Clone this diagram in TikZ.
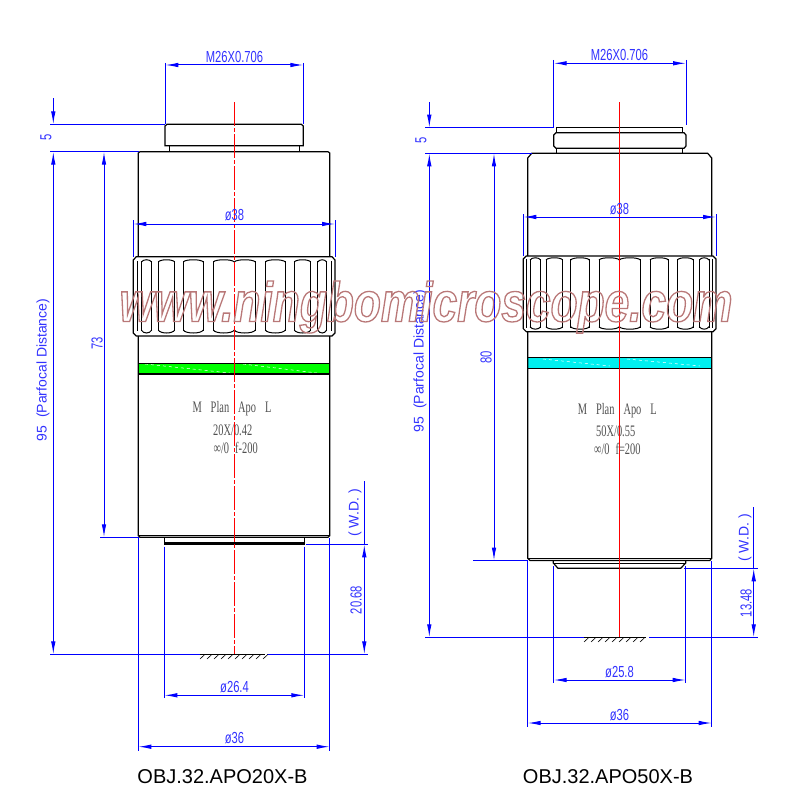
\documentclass[tikz,border=0pt]{standalone}
\usepackage{fontspec}
\setmainfont{Liberation Sans}
\newfontfamily\cadfont[FakeStretch=0.7]{Liberation Sans}
\newfontfamily\lensfont[FakeStretch=0.65]{Liberation Serif}
\newfontfamily\markfont[FakeStretch=0.79]{Liberation Sans}
\usetikzlibrary{arrows.meta}
\definecolor{cadblue}{RGB}{50,50,255}
\definecolor{markred}{RGB}{185,120,120}
\definecolor{lensgray}{RGB}{80,80,80}
\definecolor{bandgreen}{RGB}{0,255,0}
\definecolor{bandcyan}{RGB}{0,240,240}
\tikzset{
  outline/.style={black,line width=1.2pt},
  dimline/.style={blue,line width=1pt,{Latex[length=13pt,width=4.5pt]}-{Latex[length=13pt,width=4.5pt]}},
  dimend/.style={blue,line width=1pt,-{Latex[length=13pt,width=4.5pt]}},
  extline/.style={blue,line width=1pt},
  cadlabel/.style={inner sep=0pt,text=cadblue,font=\cadfont\fontsize{16}{16}\selectfont},
  plainlabel/.style={inner sep=0pt,text=cadblue,font=\fontsize{14}{14}\selectfont},
  lenslabel/.style={inner sep=0pt,text=lensgray,font=\lensfont\fontsize{16}{16}\selectfont},
  titlelabel/.style={inner sep=0pt,text=black,font=\fontsize{20}{20}\selectfont},
}
\begin{document}
\begin{tikzpicture}[x=1pt,y=-1pt]
\useasboundingbox (0,0) rectangle (800,800);
% left objective
\fill [bandgreen] (138.3,363.3) rectangle (329.7,374);
\draw [white,dashed,line width=0.5pt] (145,364) -- (230,373);
\draw [white,dashed,line width=0.5pt] (243,364) -- (317,373);
\draw [outline] (165,126) -- (167,124.3) -- (301.3,124.3) -- (303.3,126) -- (303.3,145.7) -- (165,145.7) -- cycle;
\draw [outline] (169.3,145.7) -- (169.3,151.7);
\draw [outline] (299.3,145.7) -- (299.3,151.7);
\draw [outline] (138.3,256.7) -- (138.3,153) -- (140,151.7) -- (328,151.7) -- (329.7,153) -- (329.7,256.7);
\draw [outline] (133.3,260) -- (136.3,256.7) -- (332,256.7) -- (335,260) -- (335,333) -- (332,336) -- (136.3,336) -- (133.3,333) -- cycle;
\draw [outline] (138.3,336) -- (138.3,535.7) -- (140,537.3) -- (328,537.3) -- (329.7,535.7) -- (329.7,336);
\draw [outline] (138.3,535.7) -- (329.7,535.7);
\draw [outline] (138.3,363.3) -- (329.7,363.3);
\draw [outline] (138.3,374) -- (329.7,374);
\draw [outline] (164.3,537.3) -- (164.3,544) -- (304.3,544) -- (304.3,537.3);
\draw [black,line width=1pt] (164.3,542.5) -- (304.3,542.5);
\foreach \xk in {137.3,141.3,151.7,158.3,174.7,183.3,203.3,213.3,255.3,265.3,285.3,294.3,310.7,317.7,326.7,331} {
  \draw [black,line width=1pt] (\xk,261) -- (\xk,331);
}
\foreach \xa/\xb in {141.3/151.7,158.3/174.7,183.3/203.3,213.3/234.3,234.3/255.3,265.3/285.3,294.3/310.7,317.7/326.7} {
  \draw [black,line width=1pt] (\xa,262) .. controls (\xa+2,259) and (\xb-2,259) .. (\xb,262);
  \draw [black,line width=1pt] (\xa,330) .. controls (\xa+2,334) and (\xb-2,334) .. (\xb,330);
}
\node (l1a) at (232,409) [lenslabel] {M\hspace{9pt}Plan\hspace{9pt}Apo\hspace{9pt}L};
\node (l2a) at (232.7,430) [lenslabel] {20X/0.42};
\node (l3a) at (235.7,448) [lenslabel] {∞/0\hspace{6pt}f-200};
\draw [red,line width=1pt,dash pattern=on 24pt off 2pt on 4pt off 2pt] (234.3,102) -- (234.3,654.3);
% left dimensions
\coordinate (m26la) at (165.3,65);
\coordinate (m26lb) at (303.3,65);
\coordinate (d38la) at (133.3,224);
\coordinate (d38lb) at (335,224);
\coordinate (d26la) at (164.3,695.3);
\coordinate (d26lb) at (304.3,695.3);
\coordinate (d36la) at (138.3,746.7);
\coordinate (d36lb) at (329.7,746.7);
\coordinate (five1a) at (53.3,98);
\coordinate (five1b) at (53.3,124.3);
\coordinate (par1a) at (53.3,151.7);
\coordinate (par1b) at (53.3,654.3);
\coordinate (tube1a) at (104,151.7);
\coordinate (tube1b) at (104,537.3);
\coordinate (wd1a) at (364.3,544.3);
\coordinate (wd1b) at (364.3,654.3);
\draw [dimline] (m26la) -- (m26lb);
\draw [dimline] (d38la) -- (d38lb);
\draw [dimline] (d26la) -- (d26lb);
\draw [dimline] (d36la) -- (d36lb);
\draw [dimend] (five1a) -- (five1b);
\draw [dimline] (par1a) -- (par1b);
\draw [dimline] (tube1a) -- (tube1b);
\draw [dimline] (wd1a) -- (wd1b);
\draw [extline] (165.3,63) -- (165.3,124.3);
\draw [extline] (303.3,63) -- (303.3,124.3);
\draw [extline] (50,124.3) -- (165,124.3);
\draw [extline] (50,151.7) -- (139,151.7);
\draw [extline] (133.3,220) -- (133.3,256.7);
\draw [extline] (335,220) -- (335,256.7);
\draw [extline] (100,537.3) -- (138.3,537.3);
\draw [extline] (138.3,537.3) -- (138.3,750.7);
\draw [extline] (329.7,538) -- (329.7,750.7);
\draw [extline] (164.3,546.7) -- (164.3,698);
\draw [extline] (304.3,546.7) -- (304.3,698);
\draw [extline] (306,544.3) -- (368,544.3);
\draw [extline] (364.3,481) -- (364.3,544.3);
\draw [extline] (50,654.3) -- (200,654.3);
\draw [extline] (267,654.3) -- (368,654.3);
\draw [black,line width=1pt] (200,654.3) -- (265,654.3);
\foreach \xh in {200,207,...,263} {
  \draw [black,line width=0.6pt] (\xh,659) -- (\xh+5,654.3);
}
\node (m26ta) at (234.5,57) [cadlabel] {M26X0.706};
\node (d38ta) at (234.5,215) [cadlabel] {ø38};
\node (d26ta) at (234.5,687) [cadlabel] {ø26.4};
\node (d36ta) at (234.5,738) [cadlabel] {ø36};
\node (fiveta) at (46,137) [cadlabel,rotate=90] {5};
\node (tubeta) at (97,343) [cadlabel,rotate=90] {73};
\node (wdta) at (356,600) [cadlabel,rotate=90] {20.68};
\node (parta) at (43,370) [plainlabel,rotate=90] {95\ \ (Parfocal Distance)};
\node (wdla) at (355,513) [plainlabel,rotate=90] {( W.D. )};
\node (titlea) at (222.5,777) [titlelabel] {OBJ.32.APO20X-B};
% right objective
\fill [bandcyan] (527.7,357.3) rectangle (711.7,368.3);
\draw [white,dashed,line width=0.5pt] (543,359) -- (610,366);
\draw [white,dashed,line width=0.5pt] (627,359) -- (700,366);
\draw [outline] (556.3,132.7) -- (556.3,127.7) -- (682.7,127.7) -- (682.7,132.7);
\draw [outline] (553.7,135) -- (556,132.7) -- (684,132.7) -- (686,135) -- (686,146) -- (684,148.3) -- (556,148.3) -- (553.7,146) -- cycle;
\draw [outline] (556.3,148.3) -- (556.3,153.3);
\draw [outline] (682.7,148.3) -- (682.7,153.3);
\draw [outline] (527.7,256) -- (527.7,158) -- (531.7,153.3) -- (707.7,153.3) -- (711.7,158) -- (711.7,256);
\draw [outline] (523.3,259) -- (526.3,256) -- (713,256) -- (716,259) -- (716,328.7) -- (713,331.7) -- (526.3,331.7) -- (523.3,328.7) -- cycle;
\draw [outline] (527.7,331.7) -- (527.7,558.3) -- (530,560.5) -- (709.7,560.5) -- (711.7,558.3) -- (711.7,331.7);
\draw [black,line width=0.8pt] (527.7,558.3) -- (711.7,558.3);
\draw [outline] (527.7,357.3) -- (711.7,357.3);
\draw [outline] (527.7,368.3) -- (711.7,368.3);
\draw [outline] (553.3,561) -- (553.3,563) -- (558,568.3) -- (680.7,568.3) -- (685.7,563) -- (685.7,561);
\draw [black,line width=0.8pt] (553.3,563) -- (685.7,563);
\foreach \xk in {526.7,530,540.7,546,562.7,570.7,589.3,599,640.3,650,668.3,677.3,693.3,699.3,709,712.7} {
  \draw [black,line width=1pt] (\xk,259) -- (\xk,328);
}
\foreach \xa/\xb in {530/540.7,546/562.7,570.7/589.3,599/619.3,619.3/640.3,650/668.3,677.3/693.3,699.3/709} {
  \draw [black,line width=1pt] (\xa,260) .. controls (\xa+2,257) and (\xb-2,257) .. (\xb,260);
  \draw [black,line width=1pt] (\xa,326.7) .. controls (\xa+2,330) and (\xb-2,330) .. (\xb,326.7);
}
\node (l1b) at (617.3,411) [lenslabel] {M\hspace{9pt}Plan\hspace{9pt}Apo\hspace{9pt}L};
\node (l2b) at (615.7,431.7) [lenslabel] {50X/0.55};
\node (l3b) at (617.3,449) [lenslabel] {∞/0\hspace{6pt}f=200};
\draw [red,line width=1pt] (619.3,102) -- (619.3,637.3);
% right dimensions
\coordinate (m26ra) at (553.7,63.3);
\coordinate (m26rb) at (686,63.3);
\coordinate (d38ra) at (523.3,217);
\coordinate (d38rb) at (716,217);
\coordinate (d25ra) at (553.7,680);
\coordinate (d25rb) at (685.7,680);
\coordinate (d36ra) at (527.7,723);
\coordinate (d36rb) at (711.7,723);
\coordinate (five2a) at (429.3,102);
\coordinate (five2b) at (429.3,127.7);
\coordinate (par2a) at (429.3,153.3);
\coordinate (par2b) at (429.3,637.3);
\coordinate (tube2a) at (494,153.3);
\coordinate (tube2b) at (494,560.5);
\coordinate (wd2a) at (753.7,568.3);
\coordinate (wd2b) at (753.7,637.3);
\draw [dimline] (m26ra) -- (m26rb);
\draw [dimline] (d38ra) -- (d38rb);
\draw [dimline] (d25ra) -- (d25rb);
\draw [dimline] (d36ra) -- (d36rb);
\draw [dimend] (five2a) -- (five2b);
\draw [dimline] (par2a) -- (par2b);
\draw [dimline] (tube2a) -- (tube2b);
\draw [dimline] (wd2a) -- (wd2b);
\draw [extline] (553.7,60) -- (553.7,127.7);
\draw [extline] (686,60) -- (686,125);
\draw [extline] (425,127.7) -- (553.7,127.7);
\draw [extline] (425,153.3) -- (532,153.3);
\draw [extline] (523.3,214) -- (523.3,256);
\draw [extline] (716,214) -- (716,256);
\draw [extline] (473,560.5) -- (527.7,560.5);
\draw [extline] (527.7,561) -- (527.7,727);
\draw [extline] (711.7,561) -- (711.7,727);
\draw [extline] (553.7,566) -- (553.7,683);
\draw [extline] (685.7,566) -- (685.7,683);
\draw [extline] (684,568.3) -- (758,568.3);
\draw [extline] (753.7,507) -- (753.7,568.3);
\draw [extline] (425,637.3) -- (584,637.3);
\draw [extline] (649,637.3) -- (758,637.3);
\draw [black,line width=1pt] (584,637.3) -- (646,637.3);
\foreach \xh in {584,591,...,644} {
  \draw [black,line width=0.6pt] (\xh,642) -- (\xh+5,637.3);
}
\node (m26tb) at (619.5,55) [cadlabel] {M26X0.706};
\node (d38tb) at (619.5,209) [cadlabel] {ø38};
\node (d25tb) at (619.5,672) [cadlabel] {ø25.8};
\node (d36tb) at (619.5,715.5) [cadlabel] {ø36};
\node (fivetb) at (421,140) [cadlabel,rotate=90] {5};
\node (tubetb) at (486,357) [cadlabel,rotate=90] {80};
\node (wdtb) at (746,603) [cadlabel,rotate=90] {13.48};
\node (partb) at (420,361) [plainlabel,rotate=90] {95\ \ (Parfocal Distance)};
\node (wdlb) at (745,538) [plainlabel,rotate=90] {( W.D. )};
\node (titleb) at (608,777) [titlelabel] {OBJ.32.APO50X-B};
% watermark
\node (markw) at (426,307) [inner sep=0pt,text=markred,font=\markfont\bfseries\itshape\fontsize{56}{56}\selectfont] {\special{pdf:code 1 Tr 1.3 w}www.ningbomicroscope.com\special{pdf:code 0 Tr 1 w}};
\end{tikzpicture}
\end{document}
